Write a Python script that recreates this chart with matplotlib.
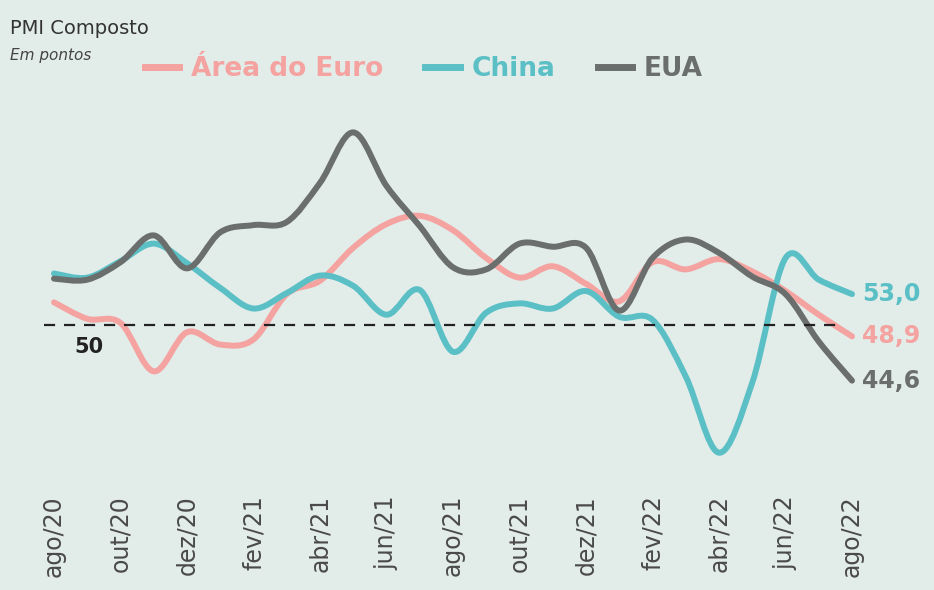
import numpy as np
import matplotlib.pyplot as plt
from matplotlib.path import Path
from matplotlib.patches import PathPatch
from matplotlib.lines import Line2D

plt.rcParams['font.family'] = ['DejaVu Sans']

meses = ["ago/20", "set/20", "out/20", "nov/20", "dez/20", "jan/21", "fev/21", "mar/21",
         "abr/21", "mai/21", "jun/21", "jul/21", "ago/21", "set/21", "out/21", "nov/21",
         "dez/21", "jan/22", "fev/22", "mar/22", "abr/22", "mai/22", "jun/22", "jul/22", "ago/22"]
euro = [52.2, 50.6, 50.2, 45.5, 49.3, 48.1, 48.6, 53.0, 54.3, 57.5, 59.8, 60.6, 59.2,
        56.5, 54.6, 55.7, 54.0, 52.3, 56.1, 55.4, 56.4, 55.2, 53.3, 51.0, 48.9]
china = [55.0, 54.6, 56.2, 57.9, 56.0, 53.6, 51.6, 53.1, 54.8, 53.8, 51.0, 53.4, 47.4,
         51.2, 52.1, 51.6, 53.3, 50.8, 50.5, 45.0, 37.6, 44.4, 56.5, 54.4, 53.0]
eua = [54.5, 54.4, 56.1, 58.7, 55.5, 59.0, 59.7, 60.0, 63.8, 68.7, 63.5, 59.6, 55.6,
       55.4, 57.9, 57.6, 57.5, 51.4, 56.5, 58.3, 57.0, 54.7, 53.0, 48.4, 44.6]
rotulos_fim = ["48,9", "53,0", "44,6"]

cor_euro = '#f4a3a0'
cor_china = '#5bbfc6'
cor_eua = '#6a6e6d'
fundo = '#e2ece9'


def curva(x, y):
    # catmull-rom -> bezier, just for the smooth look of the original
    pts = np.column_stack([x, y]).astype(float)
    verts = [pts[0]]
    codes = [Path.MOVETO]
    n = len(pts)
    for i in range(n - 1):
        p0 = pts[max(i - 1, 0)]
        p1 = pts[i]
        p2 = pts[i + 1]
        p3 = pts[min(i + 2, n - 1)]
        verts += [p1 + (p2 - p0) / 6, p2 - (p3 - p1) / 6, p2]
        codes += [Path.CURVE4] * 3
    return Path(verts, codes)


fig = plt.figure(figsize=(9.34, 5.9), dpi=100, facecolor=fundo)
ax = fig.add_axes([0, 120 / 590, 1, 470 / 590])
ax.set_facecolor(fundo)

x = np.arange(len(meses))
for serie, cor in [(euro, cor_euro), (china, cor_china), (eua, cor_eua)]:
    ax.add_patch(PathPatch(curva(x, serie), facecolor='none', edgecolor=cor,
                           lw=4.3, capstyle='round', joinstyle='round'))

ax.hlines(50, -0.3, 23.7, colors='#222222', lw=1.6, linestyles=(0, (5, 4)))
ax.text(0.6, 50 - 2.1, "50", fontsize=15, fontweight='bold', color='#222222', va='center')

for serie, cor, txt in [(euro, cor_euro, rotulos_fim[0]), (china, cor_china, rotulos_fim[1]),
                        (eua, cor_eua, rotulos_fim[2])]:
    ax.annotate(txt, (x[-1], serie[-1]), xytext=(7, 0), textcoords='offset points',
                fontsize=17, fontweight='bold', color=cor, va='center')

ax.set_xlim(-54 / 33.25, (934 - 54) / 33.25)
ax.set_ylim(50 - 145 / 10.3, 50 + 325 / 10.3)
ax.set_xticks(x[::2])
ax.set_xticklabels(meses[::2], rotation=90, fontsize=17, color='#4a4a4a')
ax.tick_params(axis='x', length=0, pad=18)
ax.set_yticks([])
for s in ax.spines.values():
    s.set_visible(False)

fig.text(0.011, 0.952, "PMI Composto", fontsize=14, color='#333333', va='center')
fig.text(0.011, 0.906, "Em pontos", fontsize=11, style='italic', color='#444444', va='center')

handles = [Line2D([], [], color=c, lw=5) for c in (cor_euro, cor_china, cor_eua)]
leg = fig.legend(handles, ["Área do Euro", "China", "EUA"], loc='center left',
                 bbox_to_anchor=(0.155, 0.883), ncol=3, frameon=False,
                 handlelength=1.3, handletextpad=0.45, columnspacing=1.6,
                 prop={'weight': 'bold', 'size': 19}, borderaxespad=0, borderpad=0)
for t, c in zip(leg.get_texts(), (cor_euro, cor_china, cor_eua)):
    t.set_color(c)

fig.savefig("out.png", dpi=100, facecolor=fundo)
